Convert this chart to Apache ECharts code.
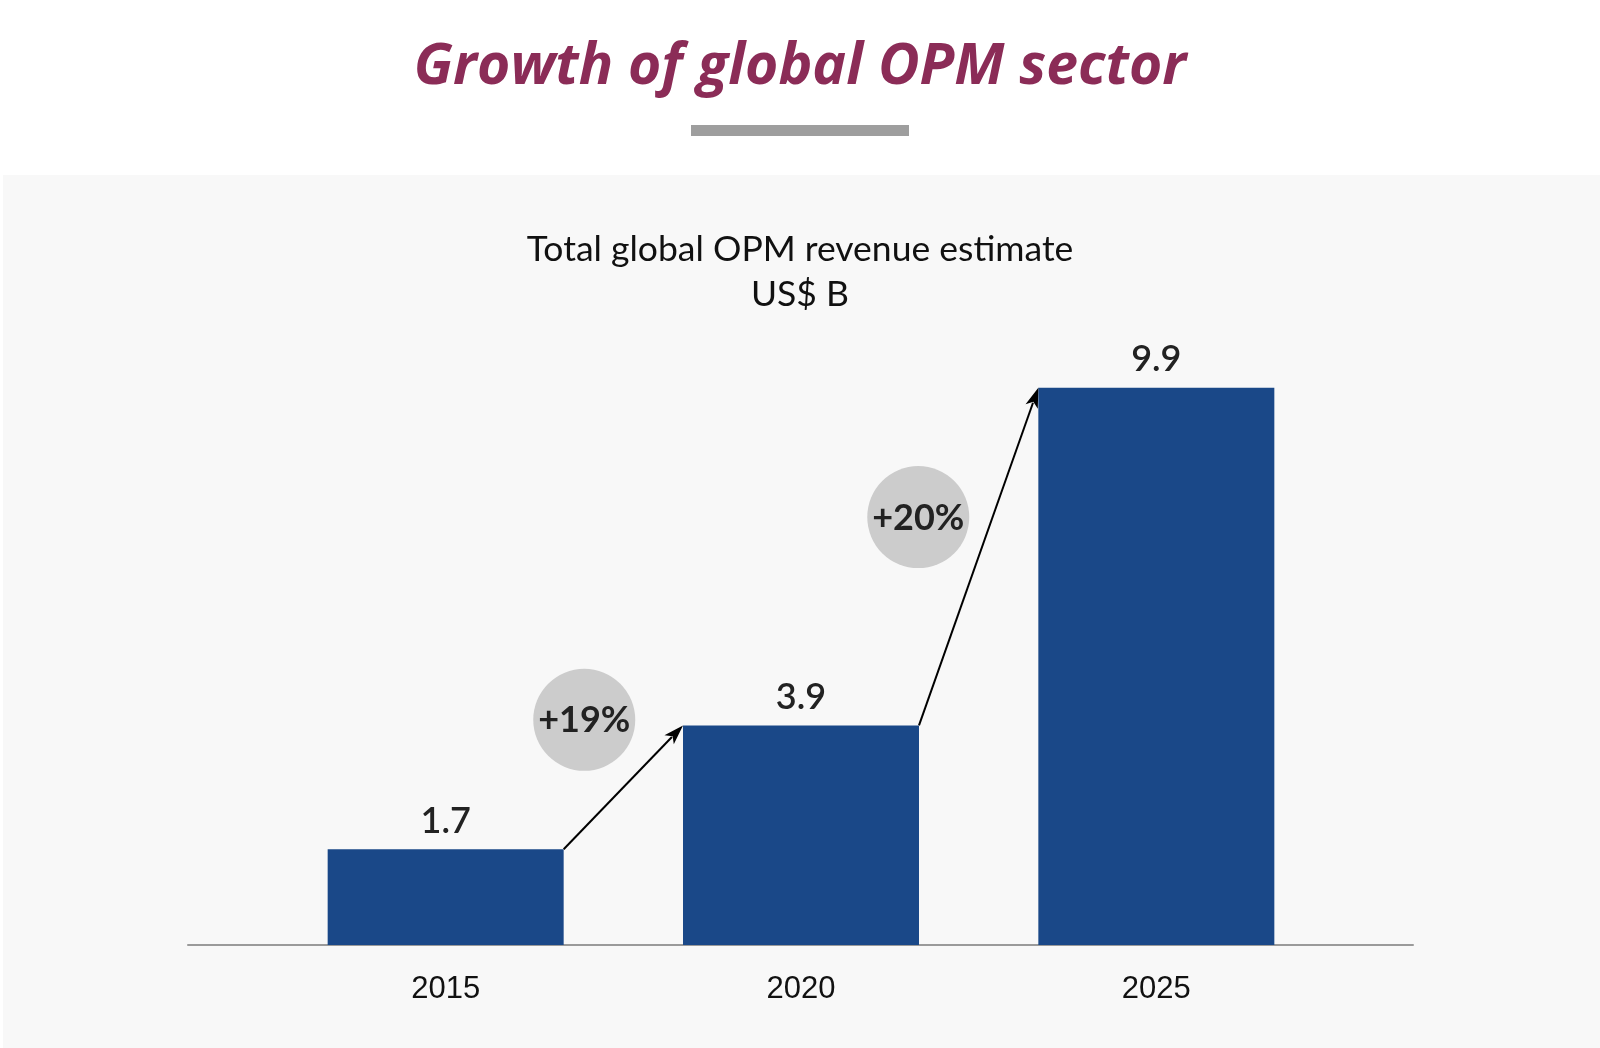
<html>
    <head>
        <meta charset="utf-8">
        <script src="https://cdn.jsdelivr.net/npm/echarts@6/dist/echarts.min.js"></script>
        <style>
            html, body { margin: 0; padding: 0; background: #fff; }
            #chart { width: 1600px; height: 1048px; }
        </style>
    </head>
    <body>
        <div id="chart"></div>
        <script>

        // data
        var categories = ['2015', '2020', '2025'];
        var revenue = [1.7, 3.9, 9.9];
        var growthLabels = ['+19%', '+20%'];
        // bubble centres, x in category units, y in US$ B
        var bubbleX = [0.39, 1.33];
        var bubbleY = [4.0, 7.6];

        var barWidth = 236;

        var segments = [];
        for (var i = 0; i < growthLabels.length; i++) {
            segments.push([i, revenue[i], revenue[i + 1], bubbleX[i], bubbleY[i]]);
        }

        var myChart = echarts.init(document.getElementById('chart'));

        function renderArrow(params, api) {
            var i = api.value(0);
            var idx = params.dataIndex;
            var a = api.coord([i, api.value(1)]);
            var b = api.coord([i + 1, api.value(2)]);
            var start = [a[0] + barWidth / 2, a[1]];
            var end = [b[0] - barWidth / 2, b[1]];

            var dx = end[0] - start[0], dy = end[1] - start[1];
            var len = Math.sqrt(dx * dx + dy * dy);
            var ux = dx / len, uy = dy / len;
            var headLen = 20, headW = 13;
            var back = [end[0] - ux * headLen, end[1] - uy * headLen];
            var nx = -uy, ny = ux;

            // bubble position interpolated between category centres
            var c0 = api.coord([0, api.value(4)]);
            var c1 = api.coord([1, api.value(4)]);
            var bx = c0[0] + (c1[0] - c0[0]) * api.value(3);
            var by = c0[1];

            return {
                type: 'group',
                children: [{
                    type: 'circle',
                    shape: { cx: bx, cy: by, r: 51 },
                    style: { fill: '#cccccc' }
                }, {
                    type: 'text',
                    style: {
                        x: bx, y: by + 1,
                        text: growthLabels[idx],
                        align: 'center',
                        verticalAlign: 'middle',
                        fill: '#222',
                        font: 'bold 36px Lato'
                    }
                }, {
                    type: 'line',
                    shape: { x1: start[0], y1: start[1], x2: back[0] + ux * 4, y2: back[1] + uy * 4 },
                    style: { stroke: '#000', lineWidth: 2 }
                }, {
                    type: 'polygon',
                    shape: {
                        points: [
                            end,
                            [back[0] + nx * headW / 2, back[1] + ny * headW / 2],
                            [back[0] + ux * 5, back[1] + uy * 5],
                            [back[0] - nx * headW / 2, back[1] - ny * headW / 2]
                        ]
                    },
                    style: { fill: '#000' }
                }]
            };
        }

        var option = {
            backgroundColor: '#ffffff',
            animation: false,
            graphic: [{
                type: 'rect',
                z: -10,
                shape: { x: 3, y: 175, width: 1597, height: 873 },
                style: { fill: '#f8f8f8' }
            }, {
                type: 'rect',
                shape: { x: 691, y: 125, width: 218, height: 11 },
                style: { fill: '#9e9e9e' }
            }],
            title: [{
                text: 'Growth of global OPM sector',
                left: 'center',
                top: 34,
                textStyle: {
                    fontFamily: 'Open Sans',
                    fontStyle: 'italic',
                    fontWeight: 'bold',
                    fontSize: 57,
                    color: '#8b2c57'
                }
            }, {
                text: 'Total global OPM revenue estimate\nUS$ B',
                left: 'center',
                top: 222,
                textStyle: {
                    fontFamily: 'Lato',
                    fontWeight: 'normal',
                    fontSize: 35.5,
                    lineHeight: 45,
                    color: '#111'
                }
            }],
            grid: [{
                left: 268,
                right: 266,
                top: 382,
                bottom: 103
            }, {
                left: 188,
                right: 187,
                top: 382,
                bottom: 103
            }],
            xAxis: [{
                type: 'category',
                gridIndex: 0,
                data: categories,
                axisLine: { show: false },
                axisTick: { show: false },
                axisLabel: {
                    margin: 29,
                    fontFamily: 'Liberation Sans',
                    fontSize: 31,
                    color: '#111'
                }
            }, {
                type: 'value',
                gridIndex: 1,
                min: 0,
                max: 1,
                axisLine: { show: true, onZero: false, lineStyle: { color: '#9a9a9a', width: 2 } },
                axisTick: { show: false },
                axisLabel: { show: false },
                splitLine: { show: false }
            }],
            yAxis: [{
                type: 'value',
                gridIndex: 0,
                min: 0,
                max: 10,
                show: false
            }, {
                type: 'value',
                gridIndex: 1,
                min: 0,
                max: 1,
                show: false
            }],
            series: [{
                type: 'bar',
                xAxisIndex: 0,
                yAxisIndex: 0,
                data: revenue,
                barWidth: barWidth,
                itemStyle: { color: '#1a4888' },
                label: {
                    show: true,
                    position: 'top',
                    distance: 10,
                    fontFamily: 'Lato',
                    fontWeight: 600,
                    fontSize: 36,
                    color: '#222'
                }
            }, {
                type: 'custom',
                xAxisIndex: 0,
                yAxisIndex: 0,
                renderItem: renderArrow,
                encode: { x: 0, y: 1 },
                data: segments,
                z: 5
            }]
        };

        myChart.setOption(option);

        </script>
    </body>
</html>
